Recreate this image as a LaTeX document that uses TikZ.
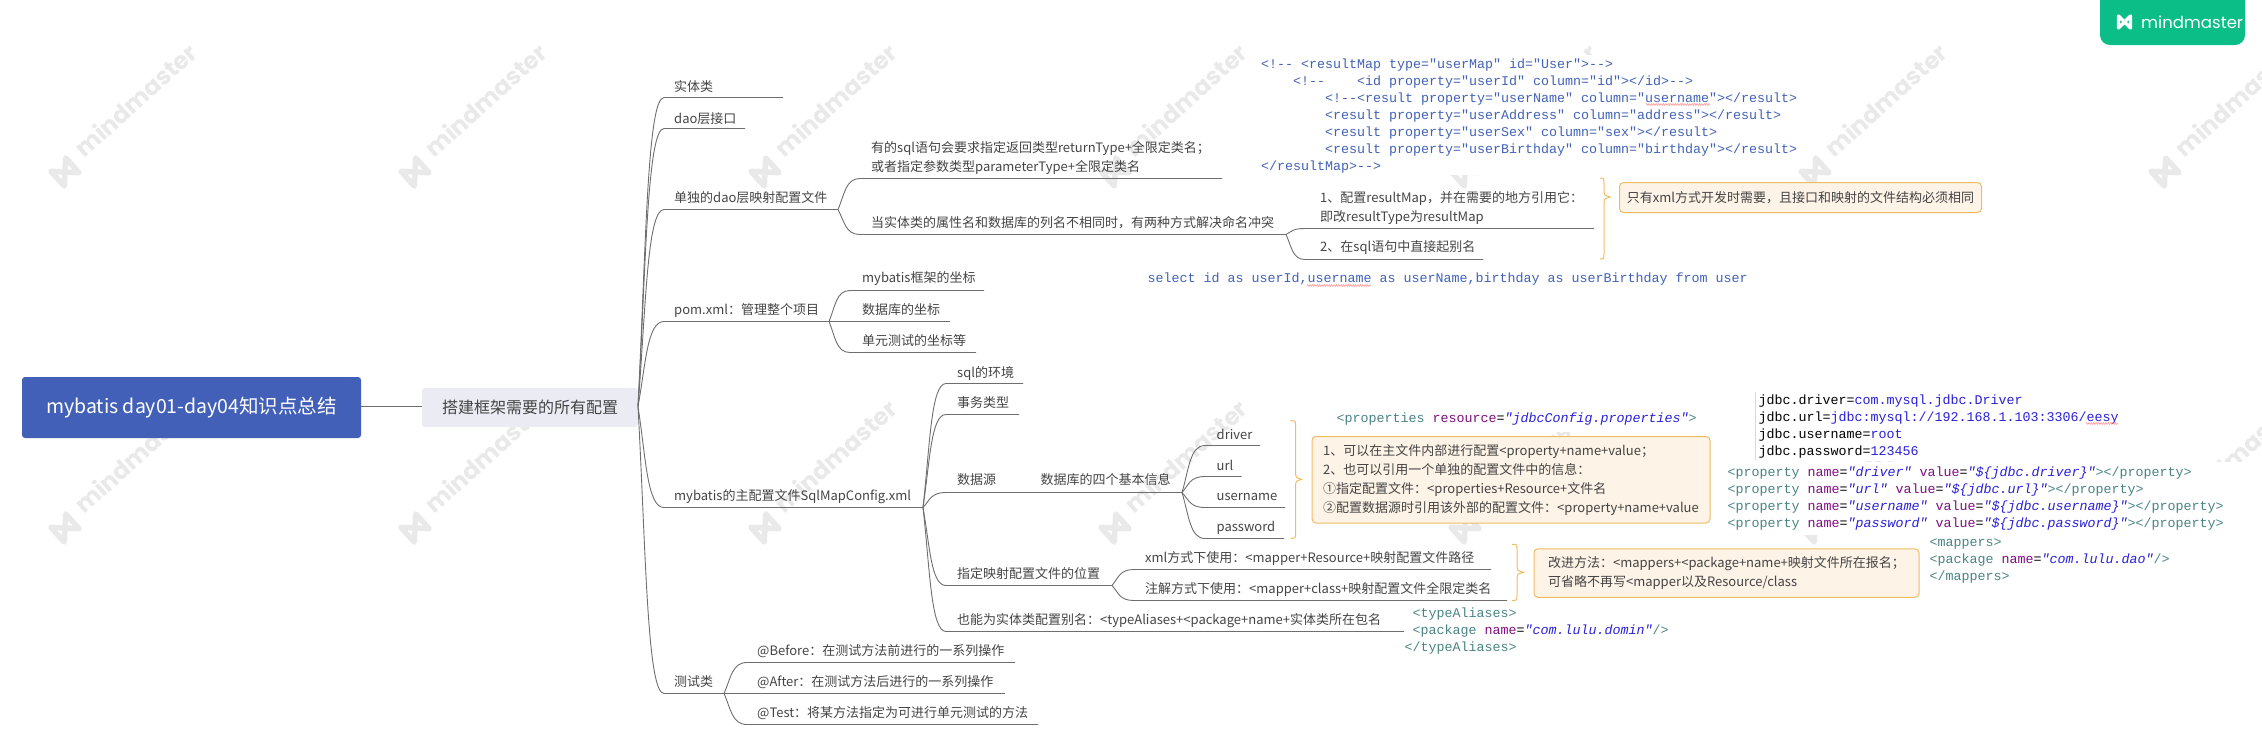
\documentclass[tikz,border=0pt]{standalone}
\usepackage{fontspec}
\usetikzlibrary{calc,decorations.pathmorphing}
\setmainfont{Noto Sans CJK SC}
\newfontfamily\codefont[Ligatures=NoCommon,Mapping=]{Liberation Mono}
\newfontfamily\wmfont{Poppins}
\definecolor{linecol}{HTML}{6E6E6E}
\definecolor{txt}{HTML}{444444}
\definecolor{rootblue}{HTML}{4360B8}
\definecolor{lightfill}{HTML}{EBECF3}
\definecolor{orangeedge}{HTML}{F0BC62}
\definecolor{notefill}{HTML}{FDF3E7}
\definecolor{brand}{HTML}{0BBD87}
\definecolor{wmgray}{HTML}{E9E9E9}
\definecolor{ctagc}{HTML}{4A8484}
\definecolor{cattrc}{HTML}{7F0F7F}
\definecolor{cstrc}{HTML}{2A20D8}
\definecolor{ccomc}{HTML}{4262B8}
\newcommand{\ctag}[1]{\textcolor{ctagc}{#1}}
\newcommand{\cattr}[1]{\textcolor{cattrc}{#1}}
\newcommand{\cstr}[1]{\textcolor{cstrc}{\itshape #1}}
\newcommand{\cval}[1]{\textcolor{cstrc}{#1}}
\newcommand{\fs}{\rule{0pt}{10pt}}
\tikzset{
  link/.style={draw=linecol,line width=0.9pt},
  topic/.style={anchor=west,inner sep=0pt,text=txt,align=left,font=\fontsize{13}{19}\selectfont},
  rootnode/.style={fill=rootblue,rounded corners=3pt,text=white,inner sep=0pt,minimum width=339pt,minimum height=61pt,font=\fontsize{19.5}{22}\selectfont},
  mainnode/.style={fill=lightfill,rounded corners=3pt,text=txt,inner sep=0pt,minimum width=216pt,minimum height=39pt,font=\fontsize{16}{20}\selectfont},
  notebox/.style={draw=orangeedge,fill=notefill,line width=1pt,rounded corners=4pt,anchor=north west,align=left,text=txt,inner xsep=7pt,inner ysep=0pt,font=\fontsize{13}{19}\selectfont},
  codeblock/.style={anchor=north west,inner sep=0pt,align=left,font=\codefont\fontsize{13.33}{17}\selectfont},
  bracket/.style={draw=orangeedge,line width=1pt},
  wavy/.style={draw=red!55!white,line width=0.35pt,decorate,decoration={zigzag,amplitude=1pt,segment length=2.4pt}},
}
% a topic: text node plus the underline it sits on
\newcommand{\topic}[7]{%
  \node[topic] (#1) at (#2,#3) {#4};
  \coordinate (#1-s) at (#5,#7);
  \coordinate (#1-e) at (#6,#7);
}
% connector from the tail of a parent topic to a child topic, along the child's underline
\newcommand{\linkto}[2]{%
  \draw[link] let \p1=(#1),\p2=(#2-s) in
    (\p1) .. controls ({\x1+0.3*(\x2-\x1)},{\y1+0.5*(\y2-\y1)}) and ({\x1+0.35*(\x2-\x1)},\y2) .. (\p2) -- (#2-e);
}
\newcommand{\bracketpath}[6]{%
  \draw[bracket] (#1,#4) .. controls (#2,#4) and (#2,#4) .. (#2,{#4+6}) -- (#2,{#5-5})
    .. controls (#2,{#5-2}) .. (#3,#5) .. controls (#2,{#5+2}) .. (#2,{#5+5})
    -- (#2,{#6-6}) .. controls (#2,#6) and (#2,#6) .. (#1,#6);
}
\newcommand{\logomark}[2]{%
  \draw[#1,line width=#2*0.55pt,line cap=round,line join=round]
    (-#2,-#2) -- (-#2,#2) -- (#2,-#2) -- (#2,#2) -- cycle;
}
\begin{document}
\begin{tikzpicture}[x=1pt,y=-1pt]
\useasboundingbox (0,0) rectangle (2262,745);
% watermarks
\foreach \k in {0,...,6}{
  \foreach \j in {0,1}{
    \begin{scope}[shift={({65+350*\k},{172+356*\j})},rotate=42]
      \logomark{wmgray}{10}
    \end{scope}
    \node[anchor=west,rotate=42,inner sep=0pt,text=wmgray,font=\wmfont\bfseries\fontsize{24}{24}\selectfont]
      (wm\k\j) at ({78+350*\k},{152+356*\j}) {mindmaster};
  }
}
% white backgrounds of the pasted code pictures
\fill[white] (1258,55) rectangle (1650,175);
\fill[white] (1145,270) rectangle (1750,290);
\fill[white] (1336,402) rectangle (1705,432);
\fill[white] (1755,392) rectangle (2130,461);
\fill[white] (1724,462) rectangle (2262,535);
\fill[white] (1925,535) rectangle (2262,590);
% brand tag
\fill[brand] (2100,-5) -- (2245,-5) -- (2245,35) arc[start angle=0,end angle=90,radius=10] -- (2110,45) arc[start angle=90,end angle=180,radius=10] -- cycle;
\begin{scope}[shift={(2124.5,22)}]
  \logomark{white}{6}
\end{scope}
\node[anchor=west,inner sep=0pt,text=white,font=\wmfont\fontsize{16.5}{18}\selectfont] (brandname) at (2141,22) {mindmaster};
% root + main
\node[rootnode] (root) at (191.5,407.5) {mybatis day01-day04知识点总结};
\node[mainnode] (main) at (530,407.5) {搭建框架需要的所有配置};
\draw[link] (root.east |- 0,406.5) -- (main.west |- 0,406.5);
\coordinate (main-e) at (638,406.5);
% level 2
\topic{entity}{674}{87}{实体类}{664}{783}{97.5}
\topic{daoif}{674}{119}{dao层接口}{664}{745}{128.5}
\topic{mapfile}{674}{198}{单独的dao层映射配置文件}{664}{838}{209.5}
\topic{pom}{674}{310}{pom.xml：管理整个项目}{664}{829}{321.5}
\topic{cfg}{674}{496.5}{mybatis的主配置文件SqlMapConfig.xml}{664}{923}{507.5}
\topic{testc}{674}{682}{测试类}{664}{724}{693.5}
\foreach \c in {entity,daoif,mapfile,pom,cfg,testc}{\linkto{main-e}{\c}}
% mapping file
\topic{rtype}{871}{158}{有的sql语句会要求指定返回类型returnType+全限定类名；\\或者指定参数类型parameterType+全限定类名}{860}{1222}{178.5}
\topic{clash}{871}{223}{当实体类的属性名和数据库的列名不相同时，有两种方式解决命名冲突}{860}{1286}{234.5}
\linkto{mapfile-e}{rtype}
\linkto{mapfile-e}{clash}
\topic{way1}{1320}{208}{1、配置resultMap，并在需要的地方引用它：\\即改resultType为resultMap}{1305}{1594}{228.5}
\topic{way2}{1320}{248}{2、在sql语句中直接起别名}{1305}{1483}{259.5}
\linkto{clash-e}{way1}
\linkto{clash-e}{way2}
\bracketpath{1600}{1604}{1610}{178}{197}{259}
\node[notebox,minimum width=362pt,minimum height=30pt] (note1) at (1619,182) {只有xml方式开发时需要，且接口和映射的文件结构必须相同};
% pom
\topic{pom1}{862}{279}{mybatis框架的坐标}{850}{984}{290.5}
\topic{pom2}{862}{310}{数据库的坐标}{850}{950}{321.5}
\topic{pom3}{862}{341}{单元测试的坐标等}{850}{976}{352.5}
\foreach \c in {pom1,pom2,pom3}{\linkto{pom-e}{\c}}
% config
\topic{env}{957}{373}{sql的环境}{946}{1023}{383.5}
\topic{tx}{957}{403}{事务类型}{946}{1019}{414.5}
\topic{ds}{957}{480}{数据源}{946}{1182}{492.5}
\node[topic] (dsinfo) at (1040.5,480) {数据库的四个基本信息};
\topic{maploc}{957}{573.5}{指定映射配置文件的位置}{946}{1112}{585.5}
\topic{alias}{957}{620.5}{也能为实体类配置别名：<typeAliases+<package+name+实体类所在包名}{946}{1404}{631.5}
\foreach \c in {env,tx,ds,maploc,alias}{\linkto{cfg-e}{\c}}
\topic{driver}{1216.5}{434}{driver}{1205}{1260}{445.5}
\topic{url}{1216.5}{465.5}{url}{1205}{1241.5}{476.5}
\topic{uname}{1216.5}{496.5}{username}{1205}{1285}{507.5}
\topic{pwd}{1216.5}{527.5}{password}{1205}{1284}{538.5}
\foreach \c in {driver,url,uname,pwd}{\linkto{ds-e}{\c}}
\bracketpath{1290.5}{1295.6}{1301.5}{420.7}{479.3}{538.3}
\node[notebox,minimum width=398pt,minimum height=86.5pt] (note2) at (1311.5,436) {1、可以在主文件内部进行配置<property+name+value；\\2、也可以引用一个单独的配置文件中的信息：\\①指定配置文件：<properties+Resource+文件名\\②配置数据源时引用该外部的配置文件：<property+name+value};
\topic{byxml}{1145}{558.5}{xml方式下使用：<mapper+Resource+映射配置文件路径}{1134}{1491}{569.5}
\topic{byann}{1145}{589.5}{注解方式下使用：<mapper+class+映射配置文件全限定类名}{1134}{1507}{600.5}
\linkto{maploc-e}{byxml}
\linkto{maploc-e}{byann}
\bracketpath{1512}{1517}{1523.5}{544.3}{572.3}{600.5}
\node[notebox,minimum width=385pt,minimum height=48.5pt] (note3) at (1533.5,548.3) {改进方法：<mappers+<package+name+映射文件所在报名；\\可省略不再写<mapper以及Resource/class};
% tests
\topic{before}{757}{651.5}{@Before：在测试方法前进行的一系列操作}{747}{1015}{662.5}
\topic{after}{757}{682.5}{@After：在测试方法后进行的一系列操作}{747}{1005}{693.5}
\topic{tst}{757}{713.5}{@Test：将某方法指定为可进行单元测试的方法}{747}{1038}{724.5}
\foreach \c in {before,after,tst}{\linkto{testc-e}{\c}}
% code pictures
\node[codeblock,text=ccomc] (resmap) at (1261,58) {\fs<!-{}- <resultMap type="userMap" id="User">-{}->\\
\hspace*{32pt}<!-{}-\hspace*{32pt}<id property="userId" column="id"></id>-{}->\\
\hspace*{64pt}<!-{}-<result property="userName" column="username"></result>\\
\hspace*{64pt}<result property="userAddress" column="address"></result>\\
\hspace*{64pt}<result property="userSex" column="sex"></result>\\
\hspace*{64pt}<result property="userBirthday" column="birthday"></result>\\
</resultMap>-{}->};
\draw[wavy] (1646,104.5) -- (1710,104.5);
\node[codeblock,text=ccomc] (selectq) at (1147.5,272.5) {\fs select id as userId,username as userName,birthday as userBirthday from user};
\draw[wavy] (1307,285.5) -- (1371,285.5);
\node[codeblock] (propres) at (1336.5,412) {\fs\ctag{<properties} \cattr{resource}=\cstr{"jdbcConfig.properties"}\ctag{>}};
\node[codeblock,text=black] (jdbc) at (1758.5,394) {\fs jdbc.driver=\cval{com.mysql.jdbc.Driver}\\
jdbc.url=\cval{jdbc:mysql://192.168.1.103:3306/eesy}\\
jdbc.username=\cval{root}\\
jdbc.password=\cval{123456}};
\draw[wavy] (2086,423.5) -- (2118,423.5);
\draw[black!15,line width=0.6pt] (1755.5,392) -- (1755.5,460);
\node[codeblock] (props) at (1727.5,466) {\fs\ctag{<property} \cattr{name}=\cstr{"driver"} \cattr{value}=\cstr{"\$\{jdbc.driver\}"}\ctag{></property>}\\
\ctag{<property} \cattr{name}=\cstr{"url"} \cattr{value}=\cstr{"\$\{jdbc.url\}"}\ctag{></property>}\\
\ctag{<property} \cattr{name}=\cstr{"username"} \cattr{value}=\cstr{"\$\{jdbc.username\}"}\ctag{></property>}\\
\ctag{<property} \cattr{name}=\cstr{"password"} \cattr{value}=\cstr{"\$\{jdbc.password\}"}\ctag{></property>}};
\node[codeblock] (mappers) at (1929.5,536) {\fs\ctag{<mappers>}\\
\ctag{<package} \cattr{name}=\cstr{"com.lulu.dao"}\ctag{/>}\\
\ctag{</mappers>}};
\node[codeblock] (aliases) at (1404.5,607) {\fs\hspace*{8pt}\ctag{<typeAliases>}\\
\hspace*{8pt}\ctag{<package} \cattr{name}=\cstr{"com.lulu.domin"}\ctag{/>}\\
\ctag{</typeAliases>}};
\end{tikzpicture}
\end{document}
